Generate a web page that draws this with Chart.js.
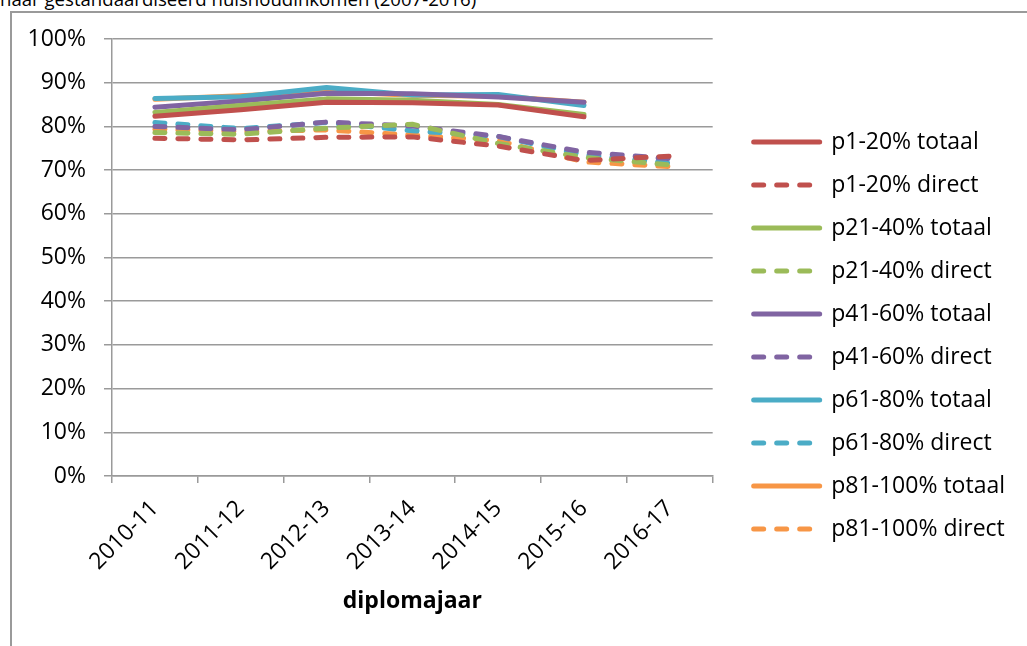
<!DOCTYPE html>
<html>
<head>
<meta charset="utf-8">
<script src="https://cdn.jsdelivr.net/npm/chart.js@4/dist/chart.umd.min.js"></script>
<style>
  html, body { margin: 0; padding: 0; background: #fff; }
  #wrap { position: relative; width: 1027px; height: 646px; overflow: hidden; }
  #caption { position: absolute; left: 0; top: -13px; font: 18.6px 'Open Sans', sans-serif; color: #000; white-space: nowrap; line-height: 23px; }
  #frame { position: absolute; left: 10px; top: 11px; width: 1200px; height: 800px; border-top: 2px solid #9a9a9a; border-left: 2px solid #9a9a9a; }
  #chart { position: absolute; left: 0; top: 0; }
</style>
</head>
<body>
<div id="wrap">
  <div id="caption">naar gestandaardiseerd huishoudinkomen (2007-2016)</div>
  <div id="frame"></div>
  <canvas id="chart" width="1027" height="646"></canvas>
</div>
<script>
// diplomajaren
const years = ['2010-11', '2011-12', '2012-13', '2013-14', '2014-15', '2015-16', '2016-17'];

// totaal (geen cijfer voor 2016-17)
const p1_20_totaal   = [82.3, 83.8, 85.5, 85.4, 84.9, 82.2, null];
const p21_40_totaal  = [83.2, 84.8, 86.3, 86.0, 85.0, 82.7, null];
const p41_60_totaal  = [84.4, 85.8, 87.6, 87.5, 86.7, 85.5, null];
const p61_80_totaal  = [86.4, 86.8, 88.9, 87.2, 87.3, 84.8, null];
const p81_100_totaal = [86.2, 87.0, 88.0, 87.1, 86.9, 85.5, null];

// direct
const p1_20_direct   = [77.3, 76.9, 77.5, 77.6, 75.5, 72.2, 73.2];
const p21_40_direct  = [78.6, 78.2, 79.6, 80.5, 76.1, 72.9, 71.2];
const p41_60_direct  = [80.0, 79.2, 81.0, 80.1, 77.7, 74.1, 72.6];
const p61_80_direct  = [80.9, 79.5, 80.9, 79.0, 77.7, 73.5, 71.6];
const p81_100_direct = [79.4, 78.8, 79.2, 78.0, 76.7, 71.9, 70.8];

const yTicks = [0, 10, 20, 30, 40, 50, 60, 70, 80, 90, 100];

const red = '#C0504D', green = '#9BBB59', purple = '#8064A2', blue = '#4BACC6', orange = '#F79646';
const FONT = "'Open Sans', sans-serif";

function line(label, data, color, dashed) {
  return {
    label: label,
    data: data,
    borderColor: color,
    backgroundColor: color,
    borderWidth: 5,
    borderCapStyle: 'round',
    borderJoinStyle: 'round',
    borderDash: dashed ? [10, 13] : [],
    pointRadius: 0,
    pointHoverRadius: 0,
    tension: 0
  };
}

const datasets = [
  line('p1-20% totaal', p1_20_totaal, red, false),
  line('p1-20% direct', p1_20_direct, red, true),
  line('p21-40% totaal', p21_40_totaal, green, false),
  line('p21-40% direct', p21_40_direct, green, true),
  line('p41-60% totaal', p41_60_totaal, purple, false),
  line('p41-60% direct', p41_60_direct, purple, true),
  line('p61-80% totaal', p61_80_totaal, blue, false),
  line('p61-80% direct', p61_80_direct, blue, true),
  line('p81-100% totaal', p81_100_totaal, orange, false),
  line('p81-100% direct', p81_100_direct, orange, true)
];

const gridColor = '#9a9a9a';

new Chart(document.getElementById('chart'), {
  type: 'line',
  data: { labels: years, datasets: datasets },
  options: {
    responsive: false,
    animation: false,
    devicePixelRatio: 1,
    layout: { padding: { top: 39, bottom: 14, left: 0, right: 12 } },
    plugins: {
      tooltip: { enabled: false },
      legend: {
        position: 'right',
        align: 'center',
        maxWidth: 292,
        labels: {
          usePointStyle: true,
          pointStyle: 'line',
          pointStyleWidth: 66,
          padding: 20,
          color: '#000',
          font: { family: FONT, size: 23 },
          // lijnstijl van de dataset in de legenda
          generateLabels: function (chart) {
            const items = Chart.defaults.plugins.legend.labels.generateLabels(chart);
            items.forEach(function (it) {
              const ds = chart.data.datasets[it.datasetIndex];
              it.lineWidth = ds.borderWidth;
              it.lineDash = ds.borderDash;
              it.lineCap = 'round';
              it.strokeStyle = ds.borderColor;
              it.pointStyle = 'line';
            });
            return items;
          }
        }
      }
    },
    scales: {
      x: {
        type: 'category',
        offset: true,
        grid: { offset: true, drawOnChartArea: false, drawTicks: true, tickLength: 7, color: gridColor, lineWidth: 1.5 },
        border: { display: true, color: gridColor, width: 1.5 },
        ticks: { color: '#000', font: { family: FONT, size: 23 }, minRotation: 45, maxRotation: 45, padding: 12, autoSkip: false },
        title: { display: true, text: 'diplomajaar', color: '#000', font: { family: FONT, size: 23, weight: 'bold' }, padding: { top: 0, bottom: 17 } },
        afterFit: function (s) { s.height = 156; }
      },
      y: {
        min: 0,
        max: 100,
        afterBuildTicks: function (s) { s.ticks = yTicks.map(v => ({ value: v })); },
        grid: { color: gridColor, lineWidth: 1.5, tickLength: 8 },
        border: { display: true, color: gridColor, width: 1.5 },
        ticks: { color: '#000', font: { family: FONT, size: 23 }, padding: 18, callback: v => v + '%' },
        afterFit: function (s) { s.width = 112; }
      },
      // lege ruimte tussen grafiek en legenda
      gap: {
        type: 'linear',
        position: 'right',
        display: true,
        grid: { display: false },
        border: { display: false },
        ticks: { display: false },
        afterFit: function (s) { s.width = 21; }
      }
    }
  }
});
</script>
</body>
</html>
